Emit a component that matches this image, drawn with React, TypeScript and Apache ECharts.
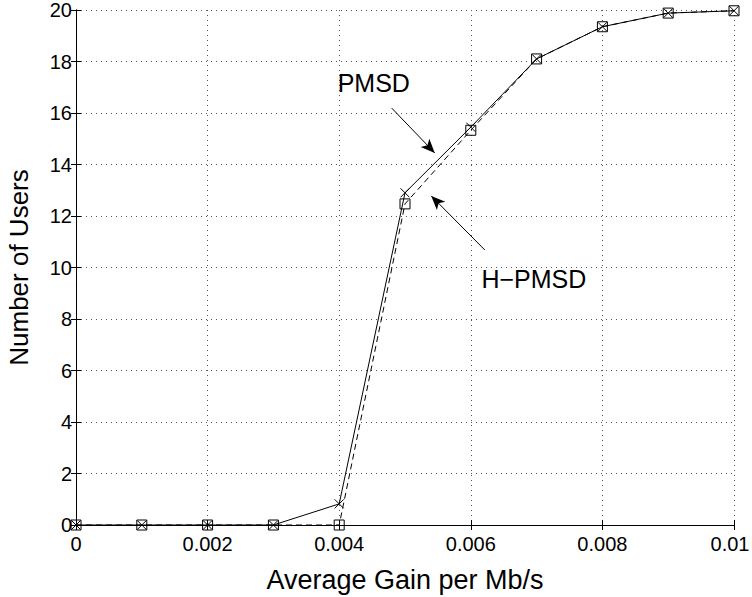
import React, { useEffect, useRef } from "react";
import * as echarts from "echarts";

const xValues = [0, 0.001, 0.002, 0.003, 0.004, 0.005, 0.006, 0.007, 0.008, 0.009, 0.01];
const pmsd = [0, 0, 0, 0, 0.82, 12.9, 15.45, 18.1, 19.35, 19.88, 19.97];
const hpmsd = [0, 0, 0, 0, 0, 12.47, 15.33, 18.1, 19.35, 19.88, 19.97];
const xTitle = "Average Gain per Mb/s";
const yTitle = "Number of Users";
const pmsdLabel = "PMSD";
const hpmsdLabel = "H\u2212PMSD";

const FONT = "Liberation Sans, Arial, Helvetica, sans-serif";
const X_SYMBOL = "path://M0,0L10,10M10,0L0,10";

export default function App() {
  const ref = useRef<HTMLDivElement>(null);
  useEffect(() => {
    if (!ref.current) return;
    const chart = echarts.init(ref.current, null, { renderer: "svg" });
    const fmt = (v: number) => {
      const s = String(parseFloat(v.toFixed(4)));
      return v >= 0.01 ? "{last|" + s + "}" : s;
    };
    const axisCommon = {
      axisLine: { show: true, lineStyle: { color: "#000", width: 1 } },
      axisTick: { show: true, inside: true, length: 5, lineStyle: { color: "#000" } },
    };
    chart.setOption({
      animation: false,
      backgroundColor: "#fff",
      grid: { left: 76, right: 18, top: 10, bottom: 72, containLabel: false, outerBoundsMode: "none" },
      xAxis: [
        {
          type: "value",
          min: 0,
          max: 0.01,
          interval: 0.002,
          ...axisCommon,
          axisLabel: {
            color: "#000",
            fontSize: 20,
            fontFamily: FONT,
            margin: 9,
            formatter: fmt,
            rich: { last: { color: "#000", fontSize: 20, fontFamily: FONT, padding: [0, 8, 0, 0] } },
          },
          splitLine: { show: true, lineStyle: { color: "#555", type: [1, 4], width: 1 } },
          name: xTitle,
          nameLocation: "middle",
          nameGap: 41,
          nameTextStyle: { color: "#000", fontSize: 27, fontFamily: FONT },
        },
        {
          type: "value",
          position: "top",
          min: 0,
          max: 0.01,
          interval: 0.002,
          ...axisCommon,
          axisLabel: { show: false },
          splitLine: { show: false },
        },
      ],
      yAxis: [
        {
          type: "value",
          min: 0,
          max: 20,
          interval: 2,
          ...axisCommon,
          axisLabel: { color: "#000", fontSize: 20, fontFamily: FONT, margin: 4, padding: [8, 0, 0, 0] },
          splitLine: { show: true, lineStyle: { color: "#555", type: [1, 4], width: 1 } },
          name: yTitle,
          nameLocation: "middle",
          nameGap: 44,
          nameRotate: 90,
          nameTextStyle: { color: "#000", fontSize: 26, fontFamily: FONT },
        },
        {
          type: "value",
          position: "right",
          min: 0,
          max: 20,
          interval: 2,
          ...axisCommon,
          axisLabel: { show: false },
          splitLine: { show: false },
        },
      ],
      series: [
        {
          type: "line",
          data: xValues.map((x, i) => [x, hpmsd[i]]),
          lineStyle: { color: "#000", width: 1, type: [6, 4] },
          symbol: "rect",
          symbolSize: 10,
          itemStyle: { color: "rgba(0,0,0,0)", borderColor: "#000", borderWidth: 1 },
          z: 3,
        },
        {
          type: "line",
          data: xValues.map((x, i) => [x, pmsd[i]]),
          lineStyle: { color: "#000", width: 1 },
          symbol: X_SYMBOL,
          symbolSize: 9,
          itemStyle: { color: "none", borderColor: "#000", borderWidth: 1 },
          z: 4,
          markLine: {
            silent: true,
            symbol: ["none", "arrow"],
            symbolSize: [9, 14],
            lineStyle: { color: "#000", width: 1, type: "solid" },
            label: { show: false },
            data: [
              [{ coord: [0.004798, 16.19] }, { coord: [0.005452, 14.45] }],
              [{ coord: [0.006213, 10.68] }, { coord: [0.005399, 12.78] }],
            ],
          },
          markPoint: {
            silent: true,
            symbol: "circle",
            symbolSize: 1,
            itemStyle: { color: "rgba(0,0,0,0)" },
            label: {
              show: true,
              position: "inside",
              color: "#000",
              fontSize: 25,
              fontFamily: FONT,
              formatter: (p: any) => p.name,
            },
            data: [
              { name: pmsdLabel, coord: [0.004525, 17.17] },
              { name: hpmsdLabel, coord: [0.006958, 9.55] },
            ],
          },
        },
      ],
    });
    return () => chart.dispose();
  }, []);
  return <div ref={ref} style={{ width: 752, height: 597, position: "absolute", left: 0, top: 0 }} />;
}
